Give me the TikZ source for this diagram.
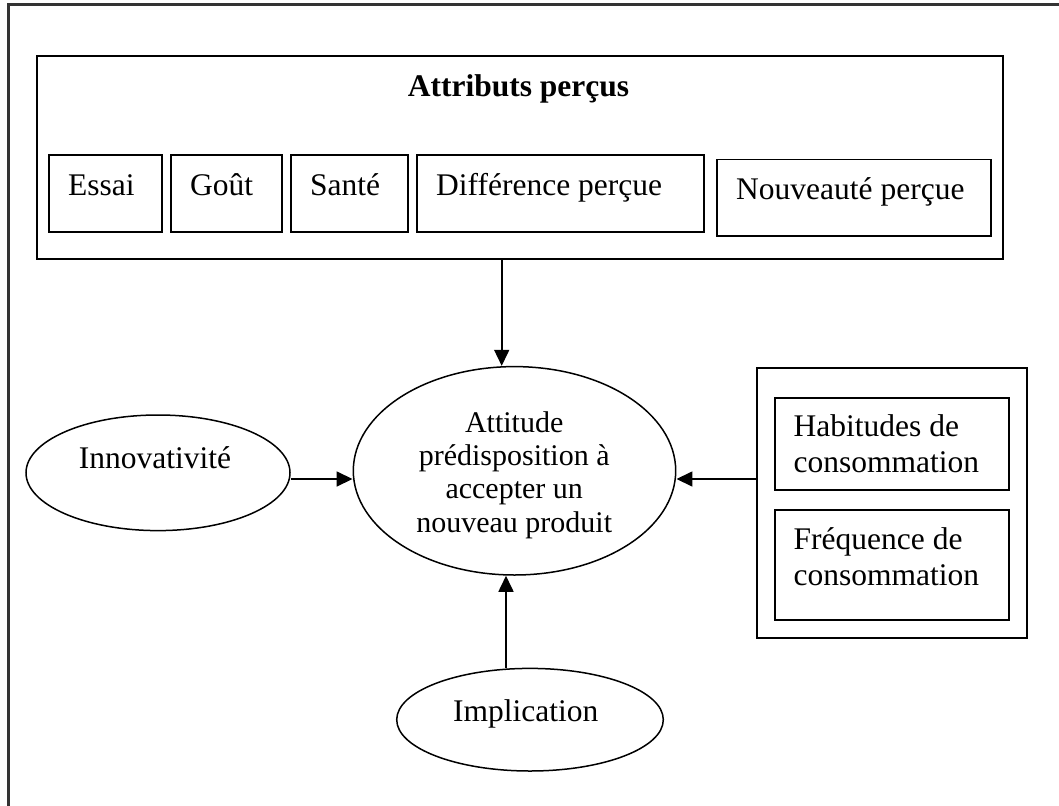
\documentclass[tikz,border=0pt]{standalone}
\usepackage{fontspec}
\setmainfont{Liberation Serif}
\usetikzlibrary{arrows.meta,shapes.geometric}
\begin{document}
\begin{tikzpicture}[x=1pt,y=-1pt,
  frame/.style={draw=black!80, line width=2.2pt},
  box/.style={draw, line width=1.8pt, anchor=north west, inner sep=0pt},
  oval/.style={draw, ellipse, line width=1.5pt, inner sep=0pt},
  lbl/.style={inner sep=0pt, font=\fontsize{31.5}{36}\selectfont},
  small/.style={inner sep=0pt, font=\fontsize{30}{33.3}\selectfont},
  arr/.style={line width=1.6pt, -{Triangle[length=16pt,width=15pt]}}]
\useasboundingbox (0,0) rectangle (1059,805);
\clip (0,0) rectangle (1059,805);
% page frame (runs past the right and bottom edges)
\draw[frame] (8.5,4.5) rectangle (1075,820);

% perceived attributes
\node[box, minimum width=966, minimum height=203] (attr) at (36,55) {};
\node[lbl, font=\fontsize{31.5}{36}\selectfont\bfseries, anchor=base] (attrT) at (518.5,96.7) {Attributs perçus};
\node[box, minimum width=113.3, minimum height=76.7] (essai) at (47.7,154.3) {};
\node[box, minimum width=111, minimum height=76.7] (gout) at (170,154.3) {};
\node[box, minimum width=117, minimum height=76.7] (sante) at (290.3,154.3) {};
\node[box, minimum width=287, minimum height=76.7] (diff) at (416.3,154.3) {};
\node[box, minimum width=274, minimum height=76.3] (nouv) at (716,158.7) {};
\node[lbl, anchor=base west] (essaiT) at (68,195) {Essai};
\node[lbl, anchor=base west] (goutT) at (190,195) {Goût};
\node[lbl, anchor=base west] (santeT) at (310,195) {Santé};
\node[lbl, anchor=base west] (diffT) at (436,195) {Différence perçue};
\node[lbl, anchor=base west] (nouvT) at (736,199.3) {Nouveauté perçue};

% central attitude
\node[oval, minimum width=322.4, minimum height=208.4] (att) at (514.5,470.8) {};
\node[small, align=center, anchor=base] (attT) at (514.2,532) {Attitude\\prédisposition à\\accepter un\\nouveau produit};

% innovativeness and involvement
\node[oval, minimum width=264, minimum height=115.6] (innov) at (158,472.8) {};
\node[lbl, anchor=base] (innovT) at (155,468.3) {Innovativité};
\node[oval, minimum width=266.6, minimum height=102.6] (impl) at (530,719.7) {};
\node[lbl, anchor=base] (implT) at (525.8,721.7) {Implication};

% consumption group
\node[box, minimum width=269.7, minimum height=270] (grp) at (756,366.7) {};
\node[box, minimum width=234, minimum height=92.3] (hab) at (773.7,396.7) {};
\node[box, minimum width=234, minimum height=110] (freq) at (773.7,509) {};
\node[lbl, align=left, anchor=base west] (habT) at (793.5,472.7) {Habitudes de\\consommation};
\node[lbl, align=left, anchor=base west] (freqT) at (793.5,585) {Fréquence de\\consommation};

% connectors
\coordinate (xa) at (501.7,0);
\coordinate (xb) at (506,0);
\coordinate (ym) at (0,479);
\draw[arr] (attr.south -| xa) -- (att.north -| xa);
\draw[arr] (innov.east |- ym) -- (att.west |- ym);
\draw[arr] (impl.north -| xb) -- (att.south -| xb);
\draw[arr] (grp.west |- ym) -- (att.east |- ym);
\end{tikzpicture}
\end{document}
